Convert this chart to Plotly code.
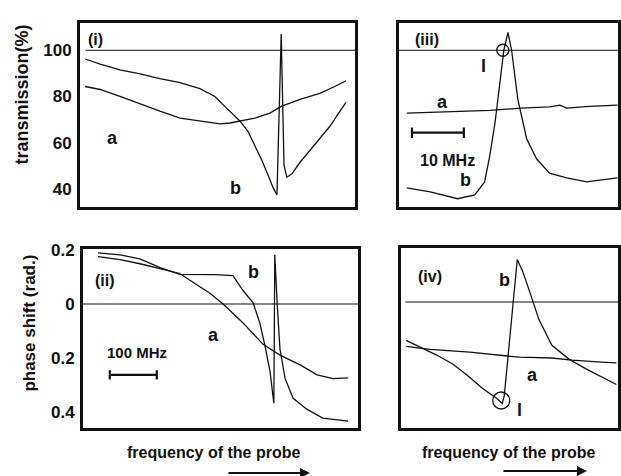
import plotly.graph_objects as go

# ---------------- data ----------------
# panel (i): transmission (%) vs probe frequency (MHz, arbitrary origin)
freq_i_a = [11, 43, 85, 128, 170, 213, 255, 277, 298, 319, 340, 372, 404, 428, 468, 510, 542, 566]
trans_i_a = [84.3, 83.0, 80.0, 76.6, 73.6, 70.6, 69.4, 68.5, 68.1, 68.5, 69.4, 70.6, 72.8, 75.7, 78.7, 81.3, 84.3, 86.8]
freq_i_b = [11, 43, 85, 128, 170, 213, 255, 287, 308, 330, 340, 357, 372, 387, 400, 411, 419, 428,
            434, 440, 451, 468, 489, 510, 532, 553, 566]
trans_i_b = [96.2, 94.0, 91.5, 89.8, 87.7, 86.0, 83.4, 80.0, 75.7, 71.5, 69.4, 65.0, 58.7, 52.3, 46.0, 40.4,
             37.4, 107.0, 50.2, 45.0, 46.5, 51.5, 56.6, 61.7, 67.2, 73.6, 77.4]

# panel (ii): phase shift (rad.)
freq_ii_a = [32, 79, 121, 164, 206, 238, 270, 298, 340, 383, 419, 462, 498, 532, 564]
phase_ii_a = [0.175, 0.164, 0.149, 0.131, 0.113, 0.076, 0.040, 0.0, -0.069, -0.149, -0.189, -0.225,
              -0.262, -0.276, -0.273]
freq_ii_b = [32, 79, 121, 164, 206, 249, 281, 319, 340, 362, 376, 387, 398, 406, 408, 413, 419, 430,
             447, 476, 510, 564]
phase_ii_b = [0.189, 0.182, 0.167, 0.135, 0.110, 0.109, 0.109, 0.105, 0.051, 0.004, -0.069, -0.153,
              -0.251, -0.367, 0.182, 0.004, -0.167, -0.276, -0.349, -0.389, -0.422, -0.433]

# panel (iii): transmission (%) zoomed (MHz)
freq_iii_a = [1.5, 8.1, 17.5, 23.5, 29.0, 31.0, 32.3, 36.7, 42.1]
trans_iii_a = [72.8, 73.2, 74.0, 74.9, 75.5, 76.2, 74.9, 75.7, 76.2]
freq_iii_b = [1.5, 6.0, 11.3, 14.6, 16.5, 17.5, 18.5, 19.4, 20.2, 21.0, 21.7, 22.9, 24.6, 26.5, 29.0,
              32.3, 36.2, 38.7, 42.1]
trans_iii_b = [40.4, 38.7, 35.7, 37.4, 43.0, 54.5, 68.5, 85.5, 100.0, 107.7, 100.0, 78.7, 61.7, 53.0,
               46.8, 44.7, 43.0, 43.8, 44.7]
circle_iii = (20.0, 100.0)

# panel (iv): phase shift zoomed
freq_iv_a = [1.0, 5.6, 13.3, 19.0, 22.9, 29.2, 33.1, 38.8, 41.7]
phase_iv_a = [-0.164, -0.175, -0.185, -0.196, -0.204, -0.207, -0.215, -0.222, -0.225]
freq_iv_b = [1.0, 3.7, 6.9, 10.0, 12.7, 15.8, 18.5, 19.6, 20.0, 22.5, 23.5, 24.8, 26.7, 29.2, 32.5,
             35.8, 38.8, 41.7]
phase_iv_b = [-0.142, -0.167, -0.196, -0.229, -0.269, -0.320, -0.356, -0.375, -0.345, 0.156, 0.116,
              0.044, -0.065, -0.160, -0.211, -0.247, -0.276, -0.305]
circle_iv = (19.4, -0.364)

trans_ticks = [40, 60, 80, 100]
trans_ticktext = ["40", "60", "80", "100"]
phase_tickvals = [0.2, 0, -0.2, -0.4]
phase_ticktext = ["0.2", "0", "0.2", "0.4"]

# scale bars (data units)
bar_ii = (57, 157, -0.262)      # 100 MHz
bar_iii = (2.5, 12.5, 64.3)     # 10 MHz

# ---------------- figure ----------------
W, H = 621, 476
FONT = "Liberation Sans, Arial, sans-serif"
INK = "#111111"


def P(x, y):
    return x / W, 1 - y / H


fig = go.Figure()

line = dict(color=INK, width=1.3)
fig.add_trace(go.Scatter(x=freq_i_a, y=trans_i_a, mode="lines", line=line, xaxis="x", yaxis="y"))
fig.add_trace(go.Scatter(x=freq_i_b, y=trans_i_b, mode="lines", line=line, xaxis="x", yaxis="y"))
fig.add_trace(go.Scatter(x=freq_iii_a, y=trans_iii_a, mode="lines", line=line, xaxis="x2", yaxis="y2"))
fig.add_trace(go.Scatter(x=freq_iii_b, y=trans_iii_b, mode="lines", line=line, xaxis="x2", yaxis="y2"))
fig.add_trace(go.Scatter(x=[circle_iii[0]], y=[circle_iii[1]], mode="markers",
                         marker=dict(symbol="circle-open", size=12, color=INK, line=dict(width=1.3)),
                         xaxis="x2", yaxis="y2"))
fig.add_trace(go.Scatter(x=freq_ii_a, y=phase_ii_a, mode="lines", line=line, xaxis="x3", yaxis="y3"))
fig.add_trace(go.Scatter(x=freq_ii_b, y=phase_ii_b, mode="lines", line=line, xaxis="x3", yaxis="y3"))
fig.add_trace(go.Scatter(x=freq_iv_a, y=phase_iv_a, mode="lines", line=line, xaxis="x4", yaxis="y4"))
fig.add_trace(go.Scatter(x=freq_iv_b, y=phase_iv_b, mode="lines", line=line, xaxis="x4", yaxis="y4"))
fig.add_trace(go.Scatter(x=[circle_iv[0]], y=[circle_iv[1]], mode="markers",
                         marker=dict(symbol="circle-open", size=17, color=INK, line=dict(width=1.3)),
                         xaxis="x4", yaxis="y4"))

box = dict(showline=True, mirror=True, linecolor=INK, linewidth=3, showgrid=False,
           zeroline=False, ticks="", fixedrange=True)
tickfont = dict(family=FONT, size=17, color=INK, weight="bold")

x1d = [P(80, 0)[0], P(355, 0)[0]]
x3d = [P(399, 0)[0], P(618, 0)[0]]
x2d = [P(83, 0)[0], P(358, 0)[0]]
x4d = [P(401, 0)[0], P(618, 0)[0]]
ytop = [P(0, 202)[1], P(0, 15)[1]]
ybot2 = [P(0, 427)[1], P(0, 245)[1]]
ybot4 = [P(0, 427)[1], P(0, 244)[1]]

fig.update_layout(
    width=W, height=H, margin=dict(l=0, r=0, t=0, b=0),
    paper_bgcolor="white", plot_bgcolor="white", showlegend=False,
    xaxis=dict(domain=x1d, range=[0, 585], anchor="y", showticklabels=False, **box),
    yaxis=dict(domain=ytop, range=[32.3, 111.9], anchor="x", tickvals=trans_ticks,
               ticktext=["<b>%s</b>" % t for t in trans_ticktext],
               tickfont=tickfont, ticklabelstandoff=2, **box),
    xaxis2=dict(domain=x3d, range=[0, 42.2], anchor="y2", showticklabels=False, **box),
    yaxis2=dict(domain=ytop, range=[32.3, 111.9], anchor="x2", showticklabels=False, **box),
    xaxis3=dict(domain=x2d, range=[0, 585], anchor="y3", showticklabels=False, **box),
    yaxis3=dict(domain=ybot2, range=[-0.458, 0.204], anchor="x3", tickvals=phase_tickvals,
                ticktext=["<b>%s</b>" % t for t in phase_ticktext],
                tickfont=tickfont, ticklabelstandoff=2, **box),
    xaxis4=dict(domain=x4d, range=[0, 42.0], anchor="y4", showticklabels=False, **box),
    yaxis4=dict(domain=ybot4, range=[-0.465, 0.2], anchor="x4", showticklabels=False, **box),
)

# reference lines (100 % and zero phase)
ref = dict(color=INK, width=1.2)
fig.add_shape(type="line", xref="x domain", yref="y", x0=0.02, x1=1, y0=100, y1=100, line=ref)
fig.add_shape(type="line", xref="x2 domain", yref="y2", x0=0, x1=1, y0=100, y1=100, line=ref)
fig.add_shape(type="line", xref="x3 domain", yref="y3", x0=0, x1=1, y0=0, y1=0, line=ref)
fig.add_shape(type="line", xref="x4 domain", yref="y4", x0=0.02, x1=1, y0=0, y1=0, line=ref)

# scale bars
bar = dict(color=INK, width=2.2)
x0, x1, yb = bar_ii
fig.add_shape(type="line", xref="x3", yref="y3", x0=x0, x1=x1, y0=yb, y1=yb, line=bar)
for xx in (x0, x1):
    fig.add_shape(type="line", xref="x3", yref="y3", x0=xx, x1=xx, y0=yb - 0.017, y1=yb + 0.017, line=bar)
x0, x1, yb = bar_iii
fig.add_shape(type="line", xref="x2", yref="y2", x0=x0, x1=x1, y0=yb, y1=yb, line=bar)
for xx in (x0, x1):
    fig.add_shape(type="line", xref="x2", yref="y2", x0=xx, x1=xx, y0=yb - 2.3, y1=yb + 2.3, line=bar)


def label(text, x, y, size=18, angle=0):
    px, py = P(x, y)
    fig.add_annotation(x=px, y=py, xref="paper", yref="paper", text="<b>%s</b>" % text, showarrow=False,
                       textangle=angle, xanchor="center", yanchor="middle",
                       font=dict(family=FONT, size=size, color=INK))


label("(i)", 95, 32, 16)
label("a", 112, 132)
label("b", 235, 183)
label("(iii)", 427, 32, 16)
label("l", 483, 59)
label("a", 443, 96)
label("b", 465, 175)
label("10 MHz", 447, 155, 16)
label("(ii)", 105, 277, 16)
label("b", 253, 269)
label("a", 213, 333)
label("100 MHz", 137, 350, 15)
label("(iv)", 430, 273, 16)
label("b", 505, 277)
label("a", 532, 373)
label("l", 519, 409)
label("transmission(%)", 22, 88, 18, -90)
label("phase shift (rad.)", 30, 321, 17, -90)
label("frequency of the probe", 213, 452, 16)
label("frequency of the probe", 508, 452, 16)

# direction arrows
for (xs, xe, yy) in [(227, 310, 473), (502, 587, 471)]:
    hx, hy = P(xe, yy)
    fig.add_annotation(x=hx, y=hy, xref="paper", yref="paper", ax=-(xe - xs), ay=0,
                       axref="pixel", ayref="pixel", showarrow=True, arrowhead=2,
                       arrowsize=1, arrowwidth=2, arrowcolor=INK, text="")

fig.write_html(
    "out.html",
    config={"displayModeBar": False, "staticPlot": True},
    post_script="document.body.style.margin='0';document.body.style.padding='0';"
                "document.body.style.overflow='hidden';",
)
